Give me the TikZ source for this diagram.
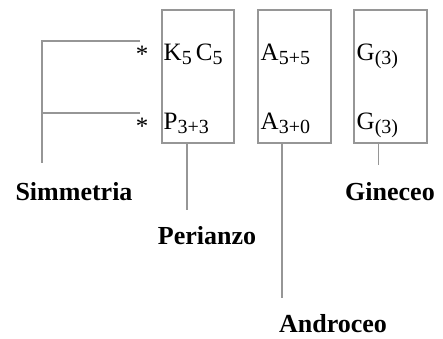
\documentclass[tikz,border=0pt]{standalone}
\usepackage{fontspec}
\setmainfont{Liberation Serif}
\definecolor{linegray}{RGB}{150,150,150}
\newcommand\fsub[1]{\raisebox{-4pt}{\fontsize{20}{20}\selectfont #1}}
\begin{document}
\begin{tikzpicture}[x=1pt,y=-1pt,
  frame/.style={draw=linegray,line width=1.6pt,rectangle,minimum height=133pt,inner sep=0pt},
  formula/.style={anchor=base west,inner sep=0pt,font=\fontsize{25}{25}\selectfont},
  label/.style={anchor=base,inner sep=0pt,font=\fontsize{26}{26}\selectfont\bfseries},
  conn/.style={draw=linegray,line width=1.6pt},
  star/.style={anchor=base,inner sep=0pt,font=\fontsize{25}{25}\selectfont}]
\useasboundingbox (0,0) rectangle (443,338);
% boxes
\node[frame,minimum width=72pt] (b1) at (198,76.5) {};
\node[frame,minimum width=73pt] (b2) at (294.5,76.5) {};
\node[frame,minimum width=73pt] (b3) at (390.5,76.5) {};
% formulas
\node[formula] (k) at (163.5,60) {K\fsub{5}\,C\fsub{5}};
\node[formula] (p) at (163.5,129) {P\fsub{3+3}};
\node[formula] (a1) at (260.5,60) {A\fsub{5+5}};
\node[formula] (a2) at (260.5,129) {A\fsub{3+0}};
\node[formula] (g1) at (356.5,60) {G\fsub{(3)}};
\node[formula] (g2) at (356.5,129) {G\fsub{(3)}};
% asterisks
\node[star] (s1) at (142,62) {*};
\node[star] (s2) at (142,134) {*};
% labels
\node[label] (sym) at (74,200) {Simmetria};
\node[label] (per) at (207,244) {Perianzo};
\node[label] (and) at (333,332) {Androceo};
\node[label] (gin) at (390,200) {Gineceo};
% connector ends
\coordinate (t1) at (140,41);
\coordinate (t2) at (140,113);
\coordinate (se) at (41.7,163);
\coordinate (pe) at (186.7,210);
\coordinate (ae) at (282,298);
\coordinate (ge) at (378.3,165);
% connectors
\draw[conn] (t1) -- (se |- t1) -- (se);
\draw[conn] (t2) -- (se |- t2);
\draw[conn] (b1.south -| pe) -- (pe);
\draw[conn] (b2.south -| ae) -- (ae);
\draw[conn] (b3.south -| ge) -- (ge);
\end{tikzpicture}
\end{document}
